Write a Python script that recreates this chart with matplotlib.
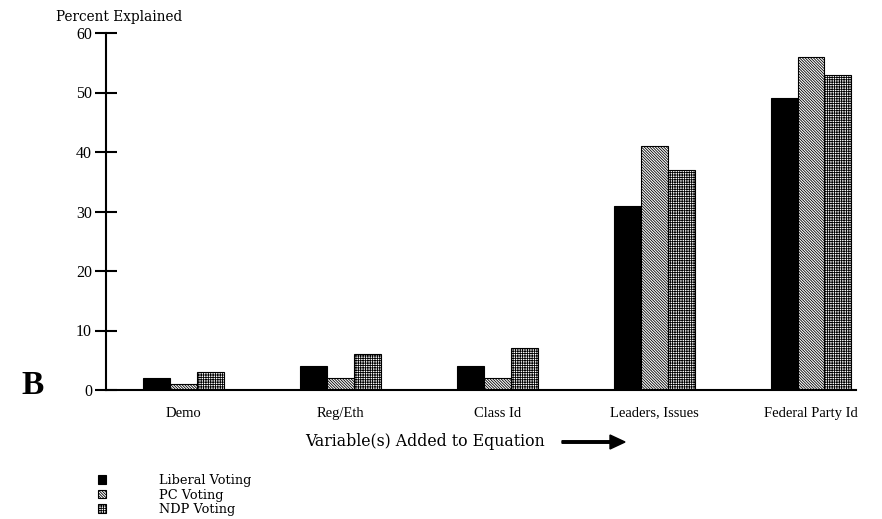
import matplotlib
matplotlib.use("Agg")
import matplotlib.pyplot as plt
import numpy as np

categories = ["Demo", "Reg/Eth", "Class Id", "Leaders, Issues", "Federal Party Id"]
liberal = [2, 4, 4, 31, 49]
pc = [1, 2, 2, 41, 56]
ndp = [3, 6, 7, 37, 53]
series_names = ["Liberal Voting", "PC Voting", "NDP Voting"]
yticks = [0, 10, 20, 30, 40, 50, 60]

plt.rcParams['hatch.linewidth'] = 0.6
plt.rcParams['font.family'] = ['Liberation Serif']

W, H = 882, 519
fig = plt.figure(figsize=(W / 100, H / 100), dpi=100)
ax = fig.add_axes([106 / W, 1 - 390 / H, (856 - 106) / W, (390 - 33) / H])

x = np.arange(len(categories))
bw = 0.172
b1 = ax.bar(x - bw, liberal, bw, color="black", edgecolor="black", linewidth=0.8, label=series_names[0])
b2 = ax.bar(x, pc, bw, color="white", edgecolor="black", hatch="\\" * 12, linewidth=0.8, label=series_names[1])
b3 = ax.bar(x + bw, ndp, bw, color="white", edgecolor="black", hatch="+" * 7, linewidth=0.8, label=series_names[2])

ax.set_xlim(-0.497, 4.287)
ax.set_ylim(0, 60)
ax.set_yticks(yticks)
ax.set_xticks(x)
ax.set_xticklabels(categories, fontsize=10.5)
ax.tick_params(axis='x', length=0, pad=12)
ax.tick_params(axis='y', direction='inout', length=16, width=1.5, labelsize=11.5, pad=2)
for s in ["top", "right"]:
    ax.spines[s].set_visible(False)
ax.spines["left"].set_linewidth(1.5)
ax.spines["bottom"].set_linewidth(1.5)

fig.text(119 / W, 1 - 17 / H, "Percent Explained", ha="center", va="center", fontsize=9.8,
         family="DejaVu Serif")
fig.text(33 / W, 1 - 385 / H, "B", ha="center", va="center", fontsize=24, fontweight="bold")
fig.text(305 / W, 1 - 442 / H, "Variable(s) Added to Equation", ha="left", va="center",
         fontsize=11.3, family="DejaVu Serif")
fig.add_artist(matplotlib.patches.FancyArrow(562 / W, 1 - 442 / H, 63 / W, 0, width=2.5 / H,
               head_width=14 / H, head_length=15 / W, length_includes_head=True,
               color="black", transform=fig.transFigure))

leg = fig.legend(handles=[b1, b2, b3], labels=series_names, loc="upper left",
                 bbox_to_anchor=(98 / W, 1 - 474 / H), frameon=False,
                 prop={"family": "DejaVu Serif", "size": 9.3},
                 handlelength=0.6, handleheight=0.6, handletextpad=4.1, labelspacing=0.12,
                 borderpad=0, borderaxespad=0)

fig.savefig("out.png", dpi=100)
